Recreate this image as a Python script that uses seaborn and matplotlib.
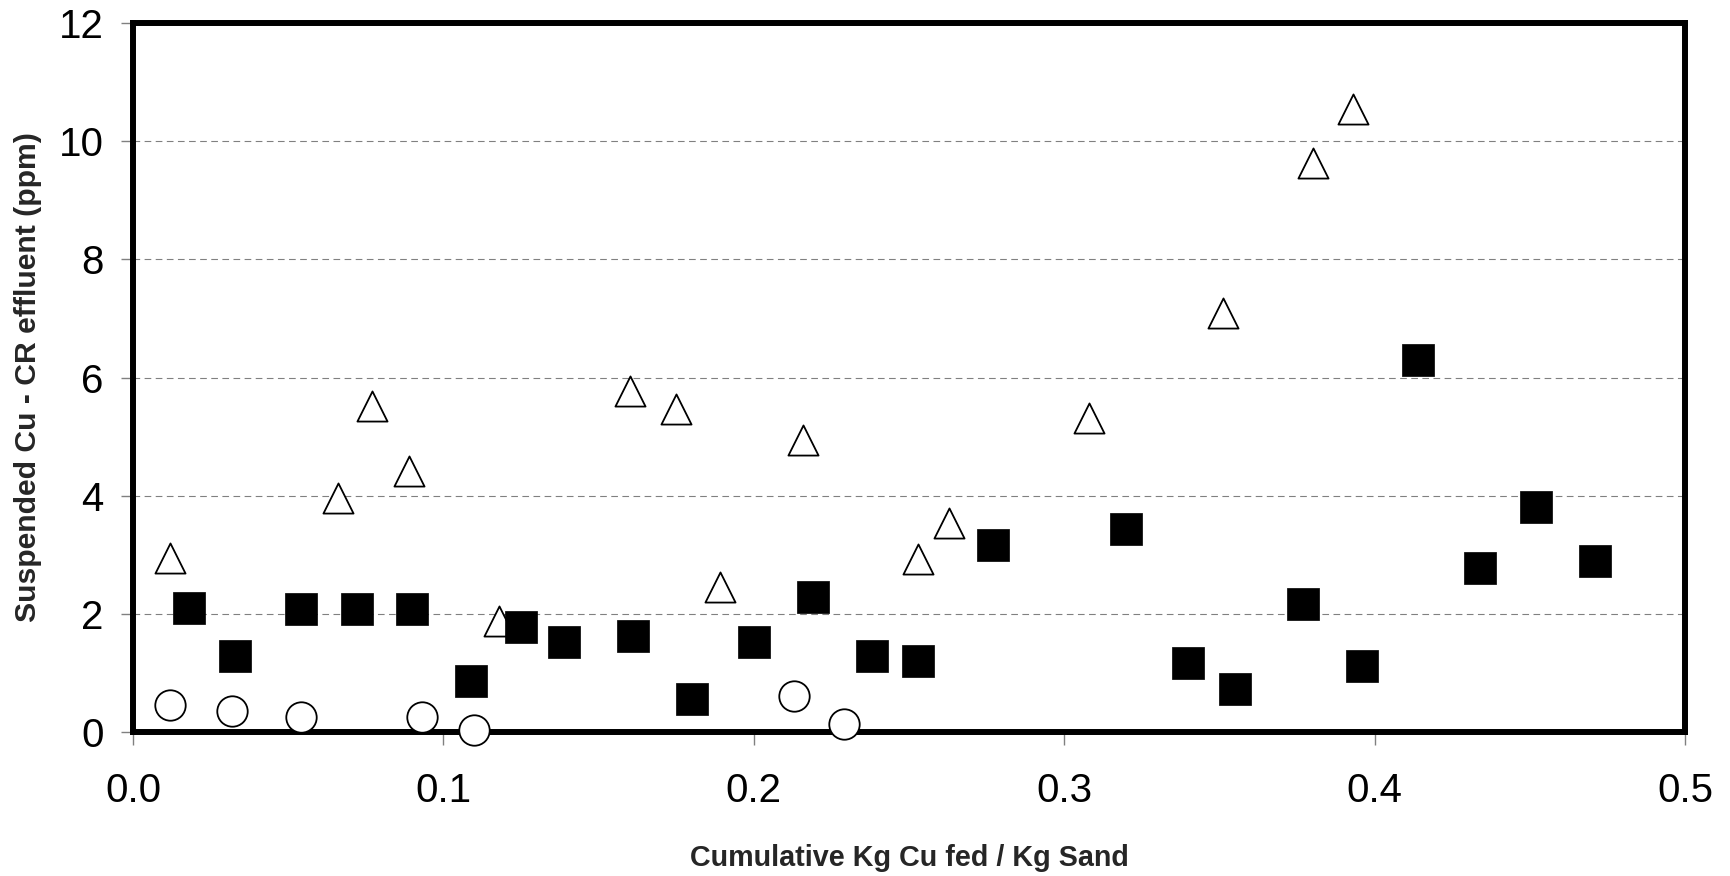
import matplotlib
matplotlib.use("Agg")
import matplotlib.pyplot as plt
import seaborn as sns
import pandas as pd

# open triangles
tri_x = [0.012, 0.066, 0.077, 0.089, 0.118, 0.160, 0.175, 0.189, 0.216, 0.253,
         0.263, 0.308, 0.351, 0.380, 0.393]
tri_y = [2.94, 3.96, 5.51, 4.42, 1.88, 5.78, 5.47, 2.45, 4.95, 2.93,
         3.54, 5.32, 7.09, 9.63, 10.54]

# filled squares
sq_x = [0.018, 0.033, 0.054, 0.072, 0.090, 0.109, 0.125, 0.139, 0.161, 0.180,
        0.200, 0.219, 0.238, 0.253, 0.277, 0.320, 0.340, 0.355, 0.377, 0.396,
        0.414, 0.434, 0.452, 0.471]
sq_y = [2.10, 1.29, 2.08, 2.08, 2.08, 0.86, 1.77, 1.53, 1.63, 0.55,
        1.53, 2.29, 1.29, 1.21, 3.17, 3.44, 1.16, 0.73, 2.17, 1.12,
        6.30, 2.78, 3.80, 2.89]

# open circles
circ_x = [0.012, 0.032, 0.054, 0.093, 0.110, 0.213, 0.229]
circ_y = [0.45, 0.35, 0.26, 0.26, 0.04, 0.61, 0.14]

x_ticks = [0.0, 0.1, 0.2, 0.3, 0.4, 0.5]
x_ticklabels = ["0.0", "0.1", "0.2", "0.3", "0.4", "0.5"]
y_ticks = [0, 2, 4, 6, 8, 10, 12]

sns.set_style("white")
plt.rcParams["font.family"] = ["Liberation Sans", "DejaVu Sans"]

fig = plt.figure(figsize=(17.3, 8.76), dpi=100)
ax = fig.add_axes([0.0769, 0.1644, 0.8971, 0.8093])

tri = pd.DataFrame({"x": tri_x, "y": tri_y})
sq = pd.DataFrame({"x": sq_x, "y": sq_y})
circ = pd.DataFrame({"x": circ_x, "y": circ_y})

sns.scatterplot(data=tri, x="x", y="y", marker="^", s=470, facecolor="white",
                edgecolor="black", linewidth=1.3, ax=ax, zorder=3)
sns.scatterplot(data=sq, x="x", y="y", marker="s", s=500, color="black",
                edgecolor="black", linewidth=0.5, ax=ax, zorder=4)
sns.scatterplot(data=circ, x="x", y="y", marker="o", s=480, facecolor="white",
                edgecolor="black", linewidth=1.3, ax=ax, zorder=5, clip_on=False)

ax.set_xlim(0, 0.5)
ax.set_ylim(0, 12)
ax.set_xticks(x_ticks)
ax.set_xticklabels(x_ticklabels)
ax.set_yticks(y_ticks)

ax.yaxis.grid(True, color="#808080", linestyle=(0, (6, 4)), linewidth=0.8)
ax.xaxis.grid(False)
ax.set_axisbelow(True)

for sp in ax.spines.values():
    sp.set_visible(True)
    sp.set_color("black")
    sp.set_linewidth(4.3)
    sp.set_zorder(4.5)

ax.tick_params(axis="both", which="major", direction="out", length=9, width=1,
               color="#808080", labelsize=29, labelcolor="black",
               bottom=True, left=True)
ax.tick_params(axis="x", pad=20)
ax.tick_params(axis="y", pad=12)

ax.set_xlabel("Cumulative Kg Cu fed / Kg Sand", fontsize=20.7, fontweight="bold",
              labelpad=24)
ax.set_ylabel("Suspended Cu - CR effluent (ppm)", fontsize=21.7, fontweight="bold",
              labelpad=12)

fig.savefig("out.png", dpi=100, facecolor="white")
